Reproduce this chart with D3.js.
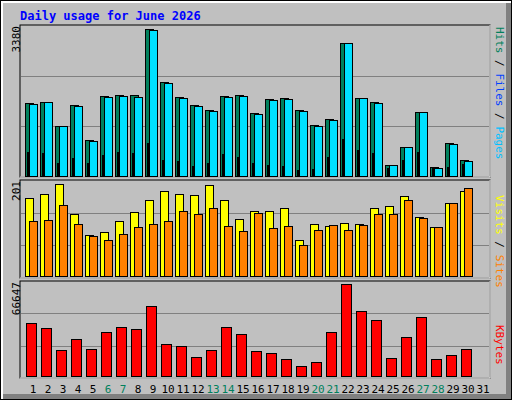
<!DOCTYPE html><html><head><script src="https://cdn.jsdelivr.net/npm/d3@7"></script>
<style>body{margin:0}svg{display:block}</style></head><body><script>
const days=d3.range(1,32);
const weekend=[6,7,13,14,20,21,27,28];
const hits=[1679,1702,1150,1633,828,1840,1863,1863,3380,2162,1817,1633,1518,1840,1863,1449,1771,1794,1518,1173,1311,3059,1794,1702,253,667,1472,207,759,368,0];
const files=[1656,1702,1150,1610,805,1817,1840,1817,3358,2139,1794,1610,1495,1817,1840,1426,1748,1771,1495,1150,1288,3059,1794,1679,253,667,1472,184,736,345,0];
const pages=[552,529,299,414,299,483,552,529,759,368,345,230,299,506,437,299,253,230,138,161,437,851,598,529,184,368,552,207,207,276,0];
const visits=[170,179,201,135,90,96,120,139,166,185,179,177,199,166,124,143,143,148,79,113,109,115,113,148,154,174,129,107,159,185,0];
const sites=[120,122,155,113,87,78,91,106,113,120,143,135,148,109,98,137,105,109,68,101,112,101,112,135,135,166,127,107,159,192,0];
const kbytes=[38200,34600,18500,26500,19200,31600,35300,33800,50600,22900,21400,14100,18500,35300,30200,17800,16300,12600,7500,10500,31600,66647,46900,40300,13400,28000,43100,12200,15100,19200,0];
const W=512,H=400;
const svg=d3.select("body").append("svg").attr("width",W).attr("height",H).style("font-family","DejaVu Sans Mono");
svg.append("rect").attr("width",W).attr("height",H).attr("fill","#000");
svg.append("rect").attr("x",1).attr("y",1).attr("width",W-2).attr("height",H-2).attr("fill","#fff");
svg.append("rect").attr("x",3).attr("y",3).attr("width",W-4).attr("height",H-4).attr("fill","#808080");
svg.append("rect").attr("x",3).attr("y",3).attr("width",W-9).attr("height",H-9).attr("fill","#c0c0c0");
svg.append("text").attr("x",20).attr("y",20).attr("fill","#0000ff").attr("font-size",12).attr("font-weight","bold").text("Daily usage for June 2026");
const x=d3.scaleBand().domain(days).range([21,486]).paddingInner(0);
function panel(y0,y1,label){
  svg.append("rect").attr("x",20).attr("y",y0).attr("width",470).attr("height",y1-y0).attr("fill","#c0c0c0").attr("stroke","#000");
  svg.append("line").attr("x1",490).attr("x2",490).attr("y1",y0).attr("y2",y1).attr("stroke","#fff");
  svg.append("line").attr("x1",20).attr("x2",490).attr("y1",y1).attr("y2",y1).attr("stroke","#fff");
  const h=y1-y0;
  [1/3,2/3].forEach(f=>svg.append("line").attr("x1",21).attr("x2",489).attr("y1",Math.round(y1-h*f)+.5).attr("y2",Math.round(y1-h*f)+.5).attr("stroke","#808080"));
  svg.append("text").attr("transform",`translate(20,${y0+1}) rotate(-90)`).attr("text-anchor","end").attr("font-size",11).attr("fill","#000").text(label);
}
panel(25,177,"3380");panel(180,278,"201");panel(281,378,"66647");
function bars(data,ys,dx,w,color,stroke){
  svg.selectAll(null).data(data.map((v,i)=>({v,d:days[i]})).filter(o=>o.v>0)).join("rect")
   .attr("x",o=>x(o.d)+dx+.5).attr("width",w).attr("y",o=>Math.round(ys(o.v))+.5).attr("height",o=>ys(0)-Math.round(ys(o.v)))
   .attr("fill",color).attr("stroke",stroke?"#000":"none");
}
const y1=d3.scaleLinear().domain([0,3380]).range([176,29]);
bars(hits,y1,4,8,"#00805c",true);
bars(files,y1,8,8,"#00e0ff",true);
bars(pages,y1,6,1,"#0040ff",true);
const y2=d3.scaleLinear().domain([0,201]).range([276,184]);
bars(visits,y2,4,8,"#ffff00",true);
bars(sites,y2,8,8,"#ff8000",true);
const y3=d3.scaleLinear().domain([0,66647]).range([376,284]);
bars(kbytes,y3,5,10,"#ff0000",true);
svg.selectAll(null).data(days).join("text").attr("x",d=>x(d)+12).attr("y",393).attr("text-anchor","middle").attr("font-size",11)
 .attr("fill",d=>weekend.includes(d)?"#00805c":"#000").text(d=>d);
function side(y0,parts){
  const t=svg.append("text").attr("transform",`translate(496,${y0}) rotate(90)`).attr("font-size",11);
  parts.forEach(([s,c])=>t.append("tspan").attr("fill",c).text(s));
}
side(27,[["Hits","#00805c"],[" / ","#000"],["Files","#0040ff"],[" / ","#000"],["Pages","#00c0ff"]]);
side(195,[["Visits","#ffff00"],[" / ","#000"],["Sites","#ff8000"]]);
side(325,[["KBytes","#ff0000"]]);
</script></body></html>
